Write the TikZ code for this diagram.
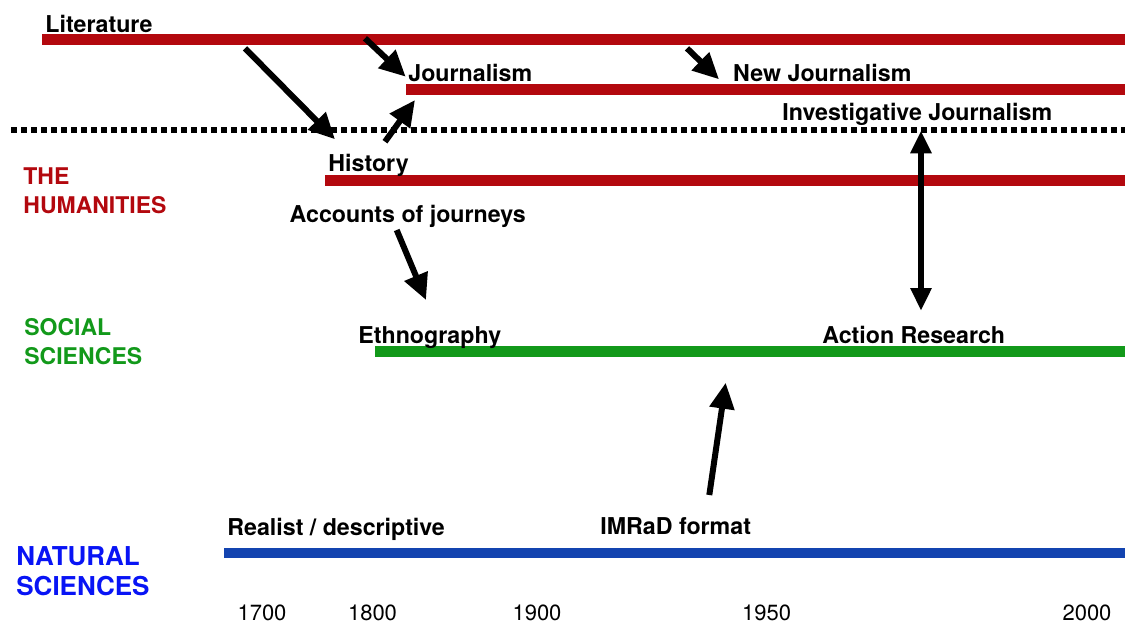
\documentclass[tikz,border=0pt]{standalone}
\usepackage{fontspec}
\setmainfont{TeX Gyre Heros}
\usetikzlibrary{arrows.meta}
\definecolor{humred}{RGB}{179, 8, 14}
\definecolor{socgreen}{RGB}{18, 153, 26}
\definecolor{natblue}{RGB}{19, 68, 176}
\definecolor{natlabel}{RGB}{8, 20, 245}

\begin{document}
\begin{tikzpicture}[
  x=0.5pt, y=-0.5pt,
  bar/.style={line width=5.25pt},
  lbl/.style={anchor=base west, inner sep=0pt, font=\fontsize{11.6}{14}\selectfont\bfseries},
  field/.style={anchor=base west, inner sep=0pt, font=\fontsize{11.5}{14}\selectfont\bfseries},
  year/.style={anchor=base, inner sep=0pt, font=\fontsize{11}{13}\selectfont},
  flow/.style={-{Triangle[length=13pt, width=12pt]}, line width=3pt}
]
  \useasboundingbox (0,0) rectangle (1125,623);

  % field labels
  \node[field, humred] (hum1) at (23, 184.3) {THE};
  \node[field, humred] (hum2) at (23, 213) {HUMANITIES};
  \node[field, socgreen] (soc1) at (24, 335) {SOCIAL};
  \node[field, socgreen] (soc2) at (24, 364) {SCIENCES};
  \node[field, natlabel, font=\fontsize{13}{15}\selectfont\bfseries] (nat1) at (16, 565) {NATURAL};
  \node[field, natlabel, font=\fontsize{13}{15}\selectfont\bfseries] (nat2) at (16, 595.7) {SCIENCES};

  % bars
  \draw[bar, humred] (42, 39.3) -- (1125, 39.3);
  \draw[bar, humred] (406, 89.5) -- (1125, 89.5);
  \draw[bar, humred] (325, 180.3) -- (1125, 180.3);
  \draw[bar, socgreen] (375, 351.3) -- (1125, 351.3);
  \draw[bar, natblue] (224, 553) -- (1125, 553);
  \draw[line width=2.75pt, dash pattern=on 2.75pt off 2.25pt] (11, 130) -- (1125, 130);

  % genres
  \node[lbl] (lit) at (45, 32) {Literature};
  \node[lbl] (jour) at (408, 81.7) {Journalism};
  \node[lbl] (newj) at (732.7, 81.7) {New Journalism};
  \node[lbl] (inv) at (782, 120.7) {Investigative Journalism};
  \node[lbl] (hist) at (328, 171.7) {History};
  \node[lbl] (acc) at (289.3, 222.7) {Accounts of journeys};
  \node[lbl] (eth) at (358, 343) {Ethnography};
  \node[lbl] (act) at (822, 343) {Action Research};
  \node[lbl] (real) at (227, 535) {Realist / descriptive};
  \node[lbl] (imrad) at (600, 534) {IMRaD format};

  % years
  \node[year] (y1700) at (262, 620.7) {1700};
  \node[year] (y1800) at (372.5, 620.7) {1800};
  \node[year] (y1900) at (537, 620.7) {1900};
  \node[year] (y1950) at (766.7, 620.7) {1950};
  \node[year] (y2000) at (1087, 620.7) {2000};

  % arrow ends
  \coordinate (litA) at (245, 48.3);
  \coordinate (histIn) at (335, 139.3);
  \coordinate (litB) at (365, 38.3);
  \coordinate (jourIn) at (405.7, 76.7);
  \coordinate (histOut) at (385, 141.7);
  \coordinate (jourBar) at (415, 100);
  \coordinate (litC) at (687, 48.3);
  \coordinate (newjIn) at (719, 79.3);
  \coordinate (accOut) at (396.7, 230);
  \coordinate (ethIn) at (426, 300);
  \coordinate (imradOut) at (709.3, 495);
  \coordinate (socIn) at (725.7, 382.7);
  \coordinate (invEnd) at (921, 130.7);
  \coordinate (actEnd) at (921, 310.7);

  \draw[flow] (litA) -- (histIn);
  \draw[flow] (litB) -- (jourIn);
  \draw[flow] (histOut) -- (jourBar);
  \draw[flow] (litC) -- (newjIn);
  \draw[flow] (accOut) -- (ethIn);
  \draw[flow] (imradOut) -- (socIn);
  \draw[{Triangle[length=11.3pt, width=10pt]}-{Triangle[length=11.3pt, width=10pt]}, line width=2.85pt] (invEnd) -- (actEnd);
\end{tikzpicture}
\end{document}
